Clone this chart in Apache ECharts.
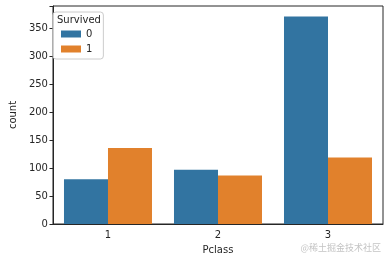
<!DOCTYPE html>
<html><head><meta charset="utf-8">
<script src="https://cdn.jsdelivr.net/npm/echarts@6/dist/echarts.min.js"></script>
<style>html,body{margin:0;padding:0;background:#fff}#c{width:389px;height:262px}</style>
</head><body><div id="c"></div>
<script>
const categories = ['1', '2', '3'];
const died = [80, 97, 372];
const survived = [136, 87, 119];
const yTicks = [0, 50, 100, 150, 200, 250, 300, 350];

const F = 'DejaVu Sans';
const chart = echarts.init(document.getElementById('c'), null, {renderer: 'canvas'});
chart.setOption({
  animation: false,
  backgroundColor: '#fff',
  grid: {left: 47, right: 6, top: 6, bottom: 38, show: true, borderColor: '#262626', borderWidth: 1},
  xAxis: {
    type: 'category', data: categories,
    name: 'Pclass', nameLocation: 'middle', nameGap: 21,
    nameTextStyle: {fontFamily: F, fontSize: 10, color: '#262626'},
    axisLine: {lineStyle: {color: '#262626', width: 1}},
    axisTick: {alignWithLabel: true, length: 3.5, lineStyle: {color: '#262626'}},
    axisLabel: {fontFamily: F, fontSize: 10, color: '#262626', margin: 6}
  },
  yAxis: {
    type: 'value', min: 0, max: 390.6, interval: 50,
    name: 'count', nameLocation: 'middle', nameGap: 31, nameRotate: 90,
    nameTextStyle: {fontFamily: F, fontSize: 10, color: '#262626'},
    axisLine: {show: true, lineStyle: {color: '#262626', width: 1}},
    axisTick: {show: true, length: 3.5, lineStyle: {color: '#262626'}},
    splitLine: {show: false},
    axisLabel: {fontFamily: F, fontSize: 10, color: '#262626', margin: 5,
      formatter: v => yTicks.includes(v) ? String(v) : ''}
  },
  legend: {
    orient: 'vertical', left: 53, top: 12,
    padding: [16, 11, 4, 8],
    itemWidth: 20, itemHeight: 7, itemGap: 3,
    icon: 'rect',
    borderColor: '#cccccc', borderWidth: 1, borderRadius: 3,
    backgroundColor: 'rgba(255,255,255,0.8)',
    textStyle: {fontFamily: F, fontSize: 10, color: '#262626', lineHeight: 12},
    data: ['0', '1']
  },
  graphic: [
    {type: 'text', left: 57, top: 15, z: 100,
     style: {text: 'Survived', font: '10px "DejaVu Sans"', fill: '#262626'}},
    {type: 'text', right: 8, top: 243,
     style: {text: '@稀土掘金技术社区', font: '9px "Noto Sans CJK SC"', fill: '#c4c4c4'}}
  ],
  series: [
    {name: '0', type: 'bar', data: died, barWidth: '40%', barGap: '0%',
     itemStyle: {color: '#3274a1'}},
    {name: '1', type: 'bar', data: survived, barWidth: '40%', barGap: '0%',
     itemStyle: {color: '#e1812c'}}
  ]
});
</script></body></html>
